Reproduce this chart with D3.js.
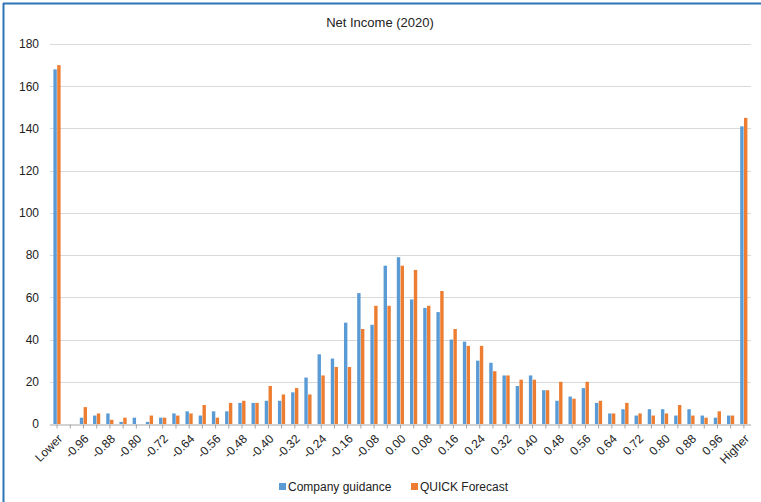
<!DOCTYPE html>
<html><head><meta charset="utf-8">
<script src="https://cdn.jsdelivr.net/npm/d3@7"></script>
<style>body{margin:0;background:#fff;}svg{display:block;font-family:"Liberation Sans",Arial,sans-serif;}</style>
</head><body>
<svg id="c" width="761" height="502"></svg>
<script>
const categories = ["Lower","-1.00","-0.96","-0.92","-0.88","-0.84","-0.80","-0.76","-0.72","-0.68","-0.64","-0.60","-0.56","-0.52","-0.48","-0.44","-0.40","-0.36","-0.32","-0.28","-0.24","-0.20","-0.16","-0.12","-0.08","-0.04","0.00","0.04","0.08","0.12","0.16","0.20","0.24","0.28","0.32","0.36","0.40","0.44","0.48","0.52","0.56","0.60","0.64","0.68","0.72","0.76","0.80","0.84","0.88","0.92","0.96","1.00","Higher"];
const companyGuidance = [168,0,3,4,5,1,3,1,3,5,6,4,6,6,10,10,11,11,15,22,33,31,48,62,47,75,79,59,55,53,40,39,30,29,23,18,23,16,11,13,17,10,5,7,4,7,7,4,7,4,3,4,141];
const quickForecast = [170,0,8,5,2,3,0,4,3,4,5,9,3,10,11,10,18,14,17,14,23,27,27,45,56,56,75,73,56,63,45,37,37,25,23,21,21,16,20,12,20,11,5,10,5,4,5,9,4,3,6,4,145];
const yTicks = [0,20,40,60,80,100,120,140,160,180];
const seriesNames = ["Company guidance","QUICK Forecast"];
const colors = ["#5B9BD5","#ED7D31"];

const svg = d3.select("#c");
// frame
svg.append("line").attr("x1",3.5).attr("x2",3.5).attr("y1",3).attr("y2",502).attr("stroke","#2E75B6").attr("stroke-width",2);
svg.append("line").attr("x1",3).attr("x2",761).attr("y1",3.5).attr("y2",3.5).attr("stroke","#2E75B6").attr("stroke-width",2);

const x = d3.scaleBand().domain(categories).range([50.5,750.5]).padding(0);
const y = d3.scaleLinear().domain([0,180]).range([424,44]);

svg.append("text").attr("x",380).attr("y",27).attr("text-anchor","middle").attr("font-size",13).attr("fill","#222").text("Net Income (2020)");

// grid
svg.append("g").selectAll("line").data(yTicks.filter(d=>d>0)).join("line")
  .attr("x1",50).attr("x2",751).attr("y1",d=>Math.round(y(d))+0.5).attr("y2",d=>Math.round(y(d))+0.5)
  .attr("stroke","#d9d9d9").attr("stroke-width",1);

// y labels
const ya = d3.axisLeft(y).tickValues(yTicks).tickSize(0).tickPadding(0);
const gy = svg.append("g").attr("transform","translate(39,0)").call(ya);
gy.select(".domain").remove();
gy.selectAll("text").attr("font-size",12).attr("fill","#222").attr("font-family","Liberation Sans, Arial, sans-serif");

// bars
const c = d => x(d)+x.bandwidth()/2;
svg.append("g").selectAll("rect").data(categories).join("rect")
  .attr("x",(d)=>c(d)-3.7).attr("width",3.4)
  .attr("y",(d,i)=>y(companyGuidance[i])).attr("height",(d,i)=>y(0)-y(companyGuidance[i]))
  .attr("fill",colors[0]);
svg.append("g").selectAll("rect").data(categories).join("rect")
  .attr("x",(d)=>c(d)+0.1).attr("width",3.4)
  .attr("y",(d,i)=>y(quickForecast[i])).attr("height",(d,i)=>y(0)-y(quickForecast[i]))
  .attr("fill",colors[1]);

// x axis
const xa = d3.axisBottom(x).tickSize(4).tickSizeOuter(0).tickFormat((d,i)=> i%2===0 ? d : "");
const gx = svg.append("g").attr("transform","translate(0,424.5)").call(xa);
gx.select(".domain").attr("stroke","#a6a6a6").attr("d","M50,0.5H751");
gx.selectAll(".tick line").attr("stroke","#a6a6a6");
gx.selectAll(".tick text").attr("font-size",12).attr("fill","#222")
  .attr("font-family","Liberation Sans, Arial, sans-serif")
  .attr("text-anchor","end").attr("dy","0.35em")
  .attr("transform","translate(3,12) rotate(-45)").attr("x",0).attr("y",0);

// legend
const lg = svg.append("g");
const lx = [279,411];
seriesNames.forEach((n,i)=>{
  lg.append("rect").attr("x",lx[i]).attr("y",483).attr("width",7).attr("height",7).attr("fill",colors[i]);
  lg.append("text").attr("x",lx[i]+9).attr("y",491).attr("font-size",12).attr("fill","#222").text(n);
});
</script>
</body></html>
